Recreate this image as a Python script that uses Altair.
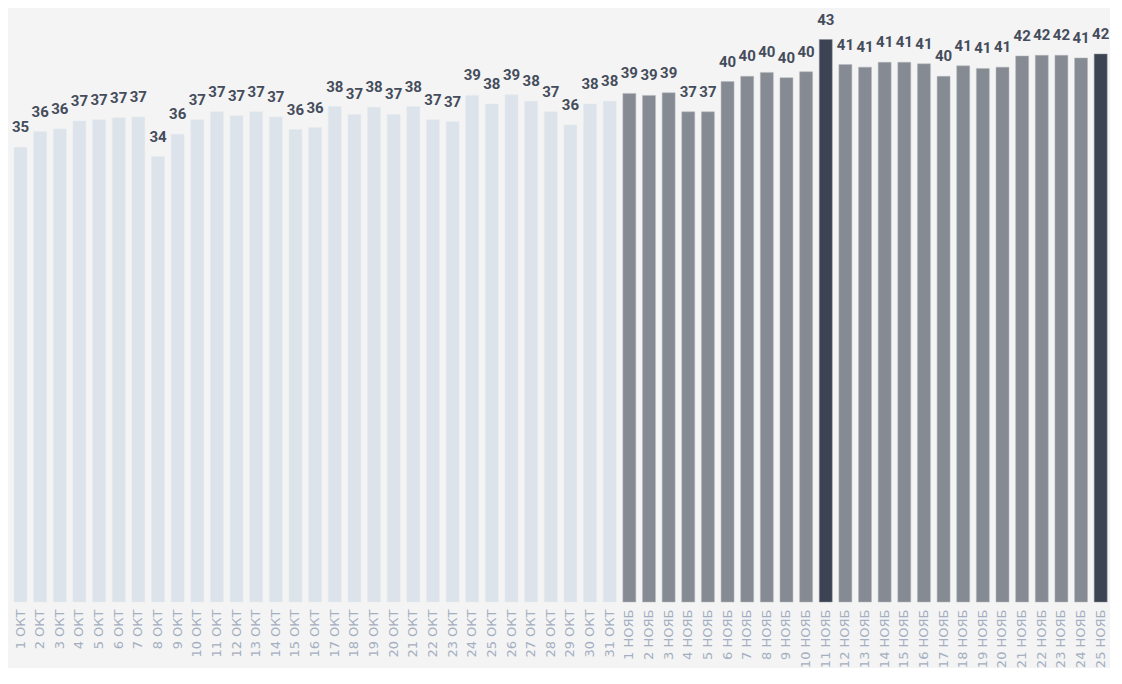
import altair as alt
import pandas as pd

oct_days = list(range(1, 32))
nov_days = list(range(1, 26))

oct_values = [34.6, 35.8, 36.0, 36.6, 36.7, 36.85, 36.9, 33.9, 35.6, 36.7,
              37.3, 37.0, 37.3, 36.9, 35.95, 36.1, 37.7, 37.1, 37.65, 37.1,
              37.7, 36.7, 36.55, 38.55, 37.9, 38.6, 38.1, 37.3, 36.3, 37.9, 38.1]
nov_values = [38.7, 38.55, 38.75, 37.3, 37.3, 39.6, 40.0, 40.3, 39.9, 40.35,
              42.8, 40.9, 40.7, 41.07, 41.07, 40.95, 40.0, 40.8, 40.6, 40.7,
              41.55, 41.6, 41.6, 41.4, 41.7]
highlight_nov = [11, 25]

labels, values, groups = [], [], []
for d, v in zip(oct_days, oct_values):
    labels.append(f"{d} ОКТ")
    values.append(v)
    groups.append("oct")
for d, v in zip(nov_days, nov_values):
    labels.append(f"{d} НОЯБ")
    values.append(v)
    groups.append("hl" if d in highlight_nov else "nov")

df = pd.DataFrame({"day": labels, "value": values, "group": groups})
df["txt"] = df["value"].round().astype(int).astype(str)

x = alt.X("day:N", sort=labels, title=None,
          scale=alt.Scale(paddingInner=0.34, paddingOuter=0.175, align=0.88),
          axis=alt.Axis(labelAngle=-90, labelAlign="right", labelBaseline="middle",
                        labelFont="DejaVu Sans", labelFontSize=13, labelColor="#a4afc1",
                        labelPadding=7, ticks=False, domain=False, grid=False,
                        labelOverlap=False))
y = alt.Y("value:Q", title=None, scale=alt.Scale(domain=[0, 45.2], nice=False),
          axis=None)

bars = alt.Chart(df).mark_bar(strokeWidth=1, strokeOpacity=0.5).encode(
    x=x, y=y,
    color=alt.Color("group:N", legend=None,
                    scale=alt.Scale(domain=["oct", "nov", "hl"],
                                    range=["#dce3ea", "#868b93", "#3c4352"])),
    stroke=alt.Stroke("group:N", legend=None,
                      scale=alt.Scale(domain=["oct", "nov", "hl"],
                                      range=["#e6ebf0", "#b4b8be", "#8a909a"])),
)

text = alt.Chart(df).mark_text(font="Roboto", fontSize=15, fontWeight="bold",
                               color="#454c5b", baseline="middle", dy=-20).encode(
    x=x, y=y, text="txt:N")

chart = (bars + text).properties(
    width=1100, height=594,
    padding={"left": 0, "top": 0, "right": 0, "bottom": 0},
    background="#f4f4f4",
).configure_view(stroke=None)

chart.save("out.html", embed_options={"renderer": "svg", "actions": False})
